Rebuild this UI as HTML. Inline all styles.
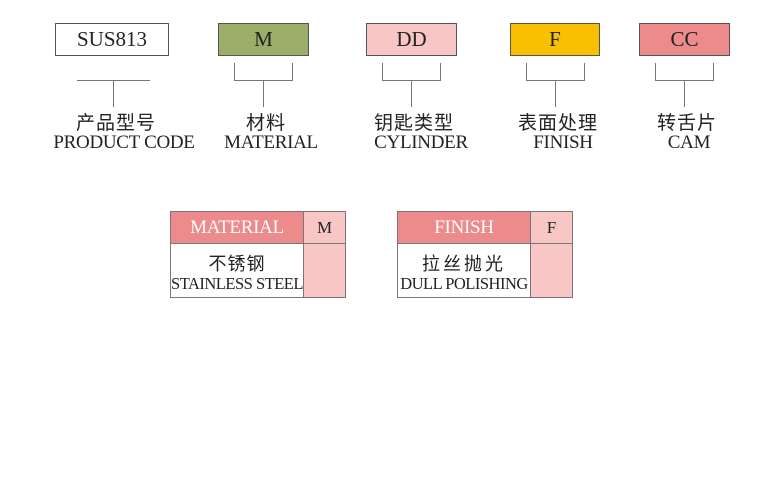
<!DOCTYPE html>
<html><head><meta charset="utf-8"><style>
body{margin:0;width:778px;height:500px;background:#fff;position:relative;overflow:hidden;font-family:"Liberation Serif","Noto Serif CJK SC",serif;color:#222}
.a{position:absolute;box-sizing:border-box}
.box{border:1px solid #555;text-align:center;font-size:21px;line-height:31px;height:33px;top:23px}
.l{position:absolute;background:#777}
.cn{position:absolute;top:111px;width:160px;text-align:center;font-size:19px;font-family:"Noto Sans CJK SC",sans-serif;line-height:22px;letter-spacing:1px}
.en{position:absolute;top:132px;width:170px;text-align:center;font-size:19px;letter-spacing:-0.3px;line-height:21px;white-space:nowrap}
.t{border:1px solid #777}
</style></head><body>
<div class="a box" style="left:55px;width:114px;background:#fff">SUS813</div>
<div class="a box" style="left:218px;width:91px;background:#9aae68">M</div>
<div class="a box" style="left:366px;width:91px;background:#f8c6c4">DD</div>
<div class="a box" style="left:510px;width:90px;background:#f8c000">F</div>
<div class="a box" style="left:639px;width:91px;background:#ec8a8c">CC</div>

<div class="l" style="left:77px;top:80px;width:73px;height:1px"></div>
<div class="l" style="left:113px;top:80px;width:1px;height:27px"></div>

<div class="l" style="left:234px;top:63px;width:1px;height:18px"></div>
<div class="l" style="left:292px;top:63px;width:1px;height:18px"></div>
<div class="l" style="left:234px;top:80px;width:59px;height:1px"></div>
<div class="l" style="left:263px;top:80px;width:1px;height:27px"></div>

<div class="l" style="left:382px;top:63px;width:1px;height:18px"></div>
<div class="l" style="left:440px;top:63px;width:1px;height:18px"></div>
<div class="l" style="left:382px;top:80px;width:59px;height:1px"></div>
<div class="l" style="left:411px;top:80px;width:1px;height:27px"></div>

<div class="l" style="left:526px;top:63px;width:1px;height:18px"></div>
<div class="l" style="left:584px;top:63px;width:1px;height:18px"></div>
<div class="l" style="left:526px;top:80px;width:59px;height:1px"></div>
<div class="l" style="left:555px;top:80px;width:1px;height:27px"></div>

<div class="l" style="left:655px;top:63px;width:1px;height:18px"></div>
<div class="l" style="left:713px;top:63px;width:1px;height:18px"></div>
<div class="l" style="left:655px;top:80px;width:59px;height:1px"></div>
<div class="l" style="left:684px;top:80px;width:1px;height:27px"></div>

<div class="cn" style="left:36px">产品型号</div><div class="en" style="left:39px">PRODUCT CODE</div>
<div class="cn" style="left:186px">材料</div><div class="en" style="left:186px">MATERIAL</div>
<div class="cn" style="left:334px">钥匙类型</div><div class="en" style="left:336px">CYLINDER</div>
<div class="cn" style="left:478px">表面处理</div><div class="en" style="left:478px">FINISH</div>
<div class="cn" style="left:607px">转舌片</div><div class="en" style="left:604px">CAM</div>

<!-- material table -->
<div class="a t" style="left:170px;top:211px;width:134px;height:33px;background:#ec8a8c;color:#fff;text-align:center;font-size:19px;line-height:31px;letter-spacing:-0.3px">MATERIAL</div>
<div class="a t" style="left:303px;top:211px;width:43px;height:33px;background:#f8c6c4;text-align:center;font-size:17px;line-height:31px">M</div>
<div class="a t" style="left:170px;top:243px;width:134px;height:55px;background:#fff;text-align:center">
<div style="font-family:'Noto Sans CJK SC',sans-serif;font-size:18px;line-height:22px;margin-top:8px;letter-spacing:1px">不锈钢</div>
<div style="font-size:16.5px;line-height:19px;letter-spacing:-0.5px;white-space:nowrap">STAINLESS STEEL</div></div>
<div class="a t" style="left:303px;top:243px;width:43px;height:55px;background:#f8c6c4"></div>

<!-- finish table -->
<div class="a t" style="left:397px;top:211px;width:134px;height:33px;background:#ec8a8c;color:#fff;text-align:center;font-size:19px;line-height:31px;letter-spacing:-0.3px">FINISH</div>
<div class="a t" style="left:530px;top:211px;width:43px;height:33px;background:#f8c6c4;text-align:center;font-size:17px;line-height:31px">F</div>
<div class="a t" style="left:397px;top:243px;width:134px;height:55px;background:#fff;text-align:center">
<div style="font-family:'Noto Sans CJK SC',sans-serif;font-size:18px;line-height:22px;margin-top:8px;letter-spacing:3px">拉丝抛光</div>
<div style="font-size:16.5px;line-height:19px;letter-spacing:-0.5px;white-space:nowrap">DULL POLISHING</div></div>
<div class="a t" style="left:530px;top:243px;width:43px;height:55px;background:#f8c6c4"></div>
</body></html>
